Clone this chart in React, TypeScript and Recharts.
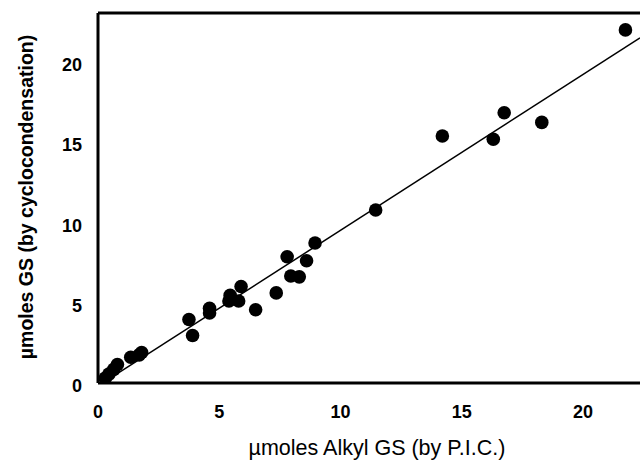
import { ComposedChart, Scatter, XAxis, YAxis, ReferenceLine } from 'recharts';

// µmoles Alkyl GS (by P.I.C.) vs µmoles GS (by cyclocondensation)
const alkylGS = [0.3, 0.45, 0.65, 0.8, 1.35, 1.7, 1.8, 3.75, 3.9, 4.6, 4.6, 5.4, 5.45, 5.8, 5.9, 6.5, 7.35, 7.8, 7.95, 8.3, 8.6, 8.95, 11.45, 14.2, 16.3, 16.75, 18.3, 21.75];
const cycloGS = [0.3, 0.55, 0.85, 1.15, 1.6, 1.75, 1.9, 3.95, 2.95, 4.65, 4.35, 5.1, 5.45, 5.1, 6.0, 4.55, 5.6, 7.85, 6.65, 6.6, 7.6, 8.7, 10.75, 15.35, 15.15, 16.8, 16.2, 21.95];

// fitted line endpoints as drawn
const fitX = [0.25, 22.35];
const fitY = [0.05, 21.45];

const xTicks = [0, 5, 10, 15, 20];
const yTicks = [0, 5, 10, 15, 20];

const points = alkylGS.map((x, i) => ({ x, y: cycloGS[i] }));
const fitLine = fitX.map((x, i) => ({ x, y: fitY[i] }));

const FONT = '"Liberation Sans", Arial, sans-serif';

const Dot = (props: any) => <circle cx={props.cx} cy={props.cy} r={6.8} fill="#000" />;

export default function App() {
    return (
        <div style={{ position: 'absolute', left: 0, top: 0, background: '#fff' }}>
            <ComposedChart width={640} height={460} margin={{ top: 13, right: 0, left: 0, bottom: 0 }}>
                <XAxis
                    type="number"
                    dataKey="x"
                    domain={[0, 22.35]}
                    ticks={xTicks}
                    allowDataOverflow
                    height={77}
                    axisLine={{ stroke: '#000', strokeWidth: 3 }}
                    tickLine={false}
                    tickSize={0}
                    tickMargin={22}
                    tick={{ fill: '#000', fontSize: 18, fontWeight: 'bold', fontFamily: FONT }}
                    label={{
                        content: () => (
                            <text x={377} y={455} textAnchor="middle" fontSize={21.5} fontFamily={FONT} fill="#000">
                                µmoles Alkyl GS (by P.I.C.)
                            </text>
                        ),
                    }}
                />
                <YAxis
                    type="number"
                    dataKey="y"
                    domain={[0, 23]}
                    ticks={yTicks}
                    allowDataOverflow
                    width={98}
                    axisLine={{ stroke: '#000', strokeWidth: 3 }}
                    tickLine={false}
                    tickSize={0}
                    tickMargin={16}
                    tick={{ fill: '#000', fontSize: 18, fontWeight: 'bold', fontFamily: FONT, dy: 3 }}
                    label={{
                        content: () => (
                            <text
                                x={33}
                                y={197}
                                transform="rotate(-90 33 197)"
                                textAnchor="middle"
                                fontSize={19.5}
                                fontWeight="bold"
                                fontFamily={FONT}
                                fill="#000"
                            >
                                µmoles GS (by cyclocondensation)
                            </text>
                        ),
                    }}
                />
                <ReferenceLine y={23} stroke="#000" strokeWidth={3} />
                <Scatter
                    data={fitLine}
                    line={{ stroke: '#000', strokeWidth: 1.5 }}
                    shape={() => <g />}
                    isAnimationActive={false}
                />
                <Scatter data={points} shape={Dot} isAnimationActive={false} />
            </ComposedChart>
        </div>
    );
}
